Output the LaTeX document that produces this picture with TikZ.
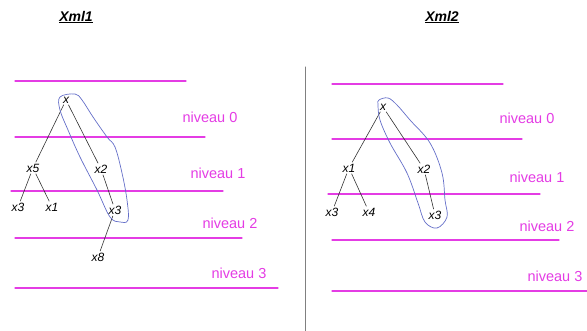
\documentclass[tikz,border=0pt]{standalone}
\usepackage{fontspec}
\setmainfont{Liberation Sans}
\usepackage{tikz}
\usetikzlibrary{calc}

\definecolor{lvlpink}{RGB}{228,60,228}
\definecolor{loopblue}{RGB}{100,110,200}

\begin{document}
\begin{tikzpicture}[x=1pt, y=-1pt, line cap=round, line join=round,
    level/.style={lvlpink, line width=1.3pt},
    lvltext/.style={lvlpink, font=\fontsize{14.5}{14.5}\selectfont},
    elem/.style={inner sep=1.5pt, font=\fontsize{12}{12}\selectfont\itshape},
    edge/.style={black!80, line width=0.6pt},
    loop/.style={loopblue, line width=0.7pt},
    title/.style={font=\fontsize{14}{14}\selectfont\bfseries\itshape}]
    \useasboundingbox (0,0) rectangle (587,331);

    % --- 1. Titles and separator ---
    \node[title] (t1) at (76,17) {\underline{Xml1}};
    \node[title] (t2) at (442,17) {\underline{Xml2}};
    \draw[gray, line width=1pt] (305,67) -- (305,331);

    % --- 2. Level lines (left) ---
    \draw[level] (15,81) -- (186,81);
    \draw[level] (15,137) -- (205,137);
    \draw[level] (11,191) -- (223,191);
    \draw[level] (15,238) -- (242,238);
    \draw[level] (15,288) -- (278,288);
    \node[lvltext] (la0) at (210,117) {niveau 0};
    \node[lvltext] (la1) at (218,173) {niveau 1};
    \node[lvltext] (la2) at (230,223) {niveau 2};
    \node[lvltext] (la3) at (239,273) {niveau 3};

    % --- 3. Level lines (right) ---
    \draw[level] (332,84) -- (503,84);
    \draw[level] (332,139) -- (522,139);
    \draw[level] (328,194) -- (540,194);
    \draw[level] (332,240) -- (559,240);
    \draw[level] (332,291) -- (587,291);
    \node[lvltext] (lb0) at (527,118) {niveau 0};
    \node[lvltext] (lb1) at (537,177) {niveau 1};
    \node[lvltext] (lb2) at (547,226) {niveau 2};
    \node[lvltext] (lb3) at (555,276) {niveau 3};

    % --- 4. Tree Xml1 ---
    \node[elem] (ax)  at (66,100) {x};
    \node[elem] (ax5) at (33,168) {x5};
    \node[elem] (ax2) at (101,169) {x2};
    \node[elem] (ax3a) at (18,207) {x3};
    \node[elem] (ax1) at (52,207) {x1};
    \node[elem] (ax3b) at (115,210) {x3};
    \node[elem] (ax8) at (98,257) {x8};
    \draw[edge] (ax) -- (ax5);
    \draw[edge] (ax) -- (ax2);
    \draw[edge] (ax5) -- (ax3a);
    \draw[edge] (ax5) -- (ax1);
    \draw[edge] (ax2) -- (ax3b);
    \draw[edge] (ax3b) -- (ax8);
    % path x - x2 - x3
    \draw[loop] plot[smooth cycle, tension=0.6] coordinates {
        (60,97) (75,94) (82,100) (93,117) (107,137) (115,147) (122,173)
        (127,200) (128,220) (120,222) (110,217) (97,190) (80,157) (68,130) (60,110)};

    % --- 5. Tree Xml2 ---
    \node[elem] (bx)  at (383,107) {x};
    \node[elem] (bx1) at (349,168) {x1};
    \node[elem] (bx2) at (424,169) {x2};
    \node[elem] (bx3a) at (332,212) {x3};
    \node[elem] (bx4) at (369,212) {x4};
    \node[elem] (bx3b) at (435,215) {x3};
    \draw[edge] (bx) -- (bx1);
    \draw[edge] (bx) -- (bx2);
    \draw[edge] (bx1) -- (bx3a);
    \draw[edge] (bx1) -- (bx4);
    \draw[edge] (bx2) -- (bx3b);
    % path x - x2 - x3
    \draw[loop] plot[smooth cycle, tension=0.6] coordinates {
        (379,100) (388,98) (397,105) (410,120) (430,143) (442,173) (445,200)
        (447,217) (437,228) (425,222) (418,203) (407,173) (390,143) (380,120) (378,105)};
\end{tikzpicture}
\end{document}
